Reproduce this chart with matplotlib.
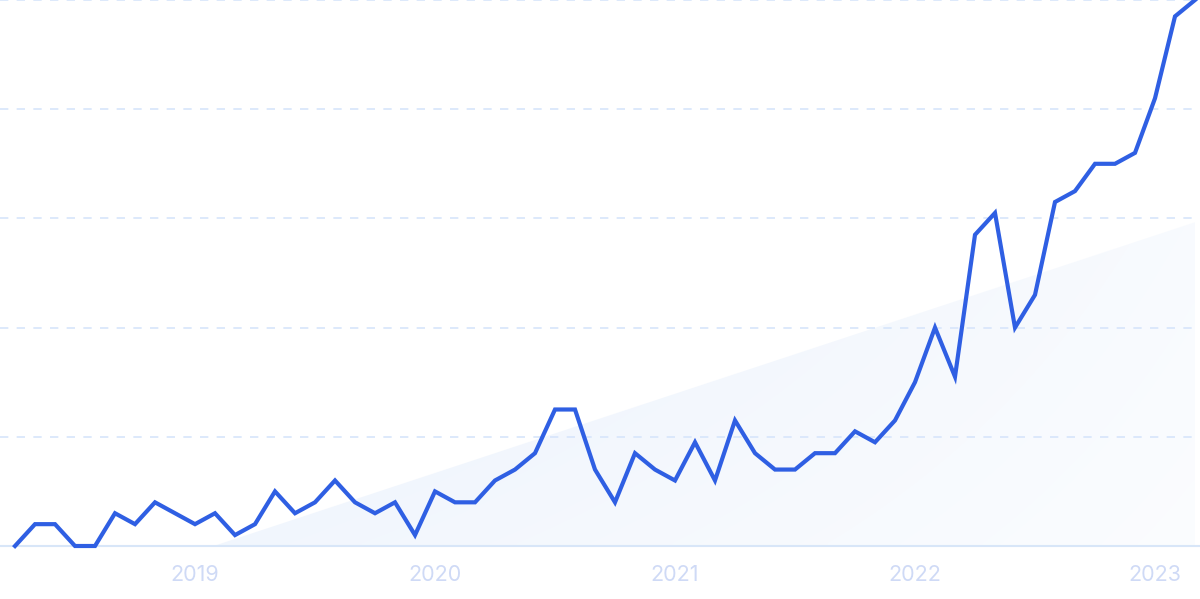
import numpy as np
import matplotlib
matplotlib.use('Agg')
import matplotlib.pyplot as plt
from matplotlib.patches import Polygon

# monthly index values, Apr 2018 .. Mar 2023
values = [0, 4, 4, 0, 0, 6, 4, 8, 6, 4, 6, 2, 4, 10, 6, 8, 12, 8, 6, 8,
          2, 10, 8, 8, 12, 14, 17, 25, 25, 14, 8, 17, 14, 12, 19, 12, 23, 17, 14, 14,
          17, 17, 21, 19, 23, 30, 40, 31, 57, 61, 40, 46, 63, 65, 70, 70, 72, 82, 97, 100]
year_labels = ['2019', '2020', '2021', '2022', '2023']
year_pos = [9, 21, 33, 45, 57]          # month index of January
trend_ends = (-12.0, 59.3)              # trend line value at first / last month

x = np.arange(len(values))
trend = np.linspace(trend_ends[0], trend_ends[1], len(values))

plt.rcParams['font.family'] = ['Inter', 'DejaVu Sans']
fig = plt.figure(figsize=(12, 5.99), dpi=100)
ax = fig.add_axes([0, 53 / 599, 1, 546 / 599])
ax.set_xlim(-0.75, 59.25)
ax.set_ylim(0, 100)
for s in ax.spines.values():
    s.set_visible(False)

# dashed gridlines + solid baseline
for g in [20, 40, 60, 80, 100]:
    ax.axhline(g, color='#d7e5fb', lw=1.2, ls=(0, (5, 5)), zorder=1, clip_on=False)
ax.axhline(0, color='#d8e6f8', lw=1.5, zorder=2, clip_on=False)

# trend area with gradient
x0 = x[0] + (0 - trend[0]) / (trend[1] - trend[0])
poly = [(x0, 0), (x[-1], trend[-1]), (x[-1], 0)]
grad = np.linspace(1, 0.3, 256)[None, :] * np.ones((64, 1))
vert = np.linspace(1, 0.6, 64)[:, None]
alpha = grad * vert
rgba = np.zeros((64, 256, 4))
rgba[..., 0] = 0.91
rgba[..., 1] = 0.945
rgba[..., 2] = 0.99
rgba[..., 3] = alpha
im = ax.imshow(rgba, extent=[x0, x[-1], 0, trend[-1]], origin='upper',
               aspect='auto', zorder=0, interpolation='bilinear')
patch = Polygon(poly, closed=True, facecolor='none', edgecolor='none')
ax.add_patch(patch)
im.set_clip_path(patch)

ax.plot(x, values, color='#2f5fe3', lw=3, solid_joinstyle='miter', zorder=3, clip_on=False)

ax.set_xticks(year_pos)
ax.set_xticklabels(year_labels)
ax.tick_params(axis='x', length=0, pad=14, labelsize=15.5, labelcolor='#cfdaf6')
ax.set_yticks([])

fig.savefig('out.png', dpi=100, facecolor='white')
